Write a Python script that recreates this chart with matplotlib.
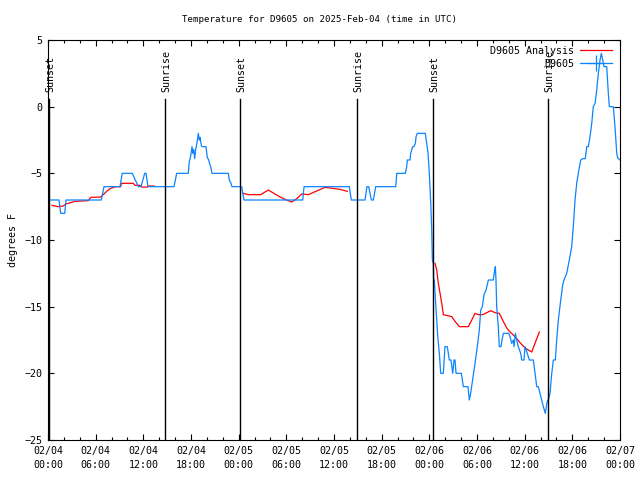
import numpy as np
import matplotlib
matplotlib.use("Agg")
import matplotlib.pyplot as plt
from matplotlib.lines import Line2D
from matplotlib.ticker import MultipleLocator

# hours since 2025-02-04 00:00 UTC
obs_hours = [0.0, 1.38, 1.6, 2.1, 2.27, 6.71, 7.05, 9.06, 9.35, 10.61, 11.37, 11.71,
             12.17, 12.34, 12.59, 15.86, 16.2, 17.66, 17.79, 17.96, 18.13, 18.21,
             18.34, 18.46, 18.59, 18.79, 18.92, 19.05, 19.13, 19.3, 19.39, 19.89,
             20.05, 20.23, 20.35, 20.52, 20.64, 22.7, 22.82, 23.0, 23.16, 24.38,
             24.67, 32.06, 32.23, 37.93, 38.18, 39.9, 40.15, 40.37, 40.7, 40.95,
             41.25, 43.77, 43.9, 44.98, 45.15, 45.23, 45.57, 45.65, 45.9, 46.07,
             46.24, 46.33, 46.49, 47.49, 47.67, 47.84, 48.0, 48.18, 48.3, 48.38,
             48.5, 48.54, 48.63, 48.72, 48.93, 49.06, 49.26, 49.43, 49.76, 49.97,
             50.26, 50.52, 50.73, 50.94, 51.11, 51.23, 51.36, 52.03, 52.28, 52.87,
             53.03, 53.2, 53.45, 53.75, 54.04, 54.29, 54.47, 54.67, 54.88, 55.14,
             55.43, 56.05, 56.23, 56.31, 56.39, 56.48, 56.68, 56.81, 57.02, 57.15,
             57.32, 57.99, 58.16, 58.37, 58.57, 58.66, 58.83, 59.0, 59.2, 59.5,
             59.63, 59.92, 60.04, 60.17, 60.33, 60.59, 61.09, 61.3, 61.52, 61.72,
             61.93, 62.15, 62.35, 62.6, 62.78, 62.9, 62.98, 63.19, 63.41, 63.61,
             63.86, 64.03, 64.24, 64.54, 64.79, 64.95, 65.29, 65.62, 65.92, 66.12,
             66.34, 66.55, 66.75, 67.05, 67.3, 67.63, 67.81, 68.01, 68.23, 68.44,
             68.64, 68.86, 69.07, 69.27, 69.49, 69.65, 69.83, 69.99, 70.33, 70.53,
             70.66, 71.16, 71.37, 71.59, 71.71, 72.0]
obs_temp = [-7, -7, -8, -8, -7, -7, -6, -6, -5, -5, -6, -6,
            -5, -5, -6, -6, -5, -5, -4.1, -3.7, -3.0, -3.5,
            -3.2, -3.9, -3.2, -2.6, -2.0, -2.5, -2.3, -2.9, -3.0, -3.0,
            -3.8, -4.0, -4.3, -4.6, -5.0, -5, -5.5, -5.7, -6, -6,
            -7, -7, -6, -6, -7, -7, -6, -6, -7, -7,
            -6, -6, -5, -5, -4.5, -4.0, -4.0, -3.5, -3.0, -3.0,
            -2.75, -2.25, -2.0, -2.0, -2.75, -3.5, -5, -7.25, -9.25, -11.5,
            -11.75, -13, -13, -14, -16, -17.25, -18.5, -20, -20, -18,
            -18, -19, -19, -20, -19, -19, -20, -20, -21, -21,
            -22, -21.5, -20.5, -19.25, -18, -16.75, -15.25, -15, -14.1, -13.75,
            -13, -13, -12.25, -12, -13, -15, -16.5, -18, -18, -17.5,
            -17, -17, -17.25, -17.75, -17.5, -18, -17, -17.5, -18, -18.5,
            -19, -19, -18, -18.2, -18.5, -19, -19, -20, -21, -21,
            -21.5, -22, -22.5, -23, -22.3, -22, -22, -21.5, -20, -19,
            -19, -17.5, -16, -14.5, -13.35, -13, -12.5, -11.5, -10.5, -9,
            -7, -5.75, -5, -4, -3.9, -3.9, -3, -3, -2.25, -1.25,
            0, 0.25, 1.25, 2.5, 3.5, 4.0, 3.5, 3, 3, 1,
            0, 0, -1.5, -3.5, -3.85, -4]

ana_hours = [0.5, 1.26, 1.9, 2.27, 3.4, 5.04, 5.4, 6.63, 7.3, 7.8, 8.52, 9.15,
             9.23, 10.74, 10.95, 11.58, 11.83, 12.46, 12.71, 13.34, 18.0,
             24.58, 25.21, 26.77, 27.73, 28.99, 29.83, 30.68, 31.31, 31.94, 32.77,
             34.87, 36.76, 37.68, 43.0,
             48.72, 48.93, 49.13, 49.35, 49.56, 49.76, 50.82, 51.23, 51.78, 52.91,
             53.34, 53.75, 54.17, 54.72, 55.22, 55.73, 56.27, 56.81, 57.31, 57.74,
             58.16, 58.79, 59.42, 60.05, 60.46, 60.89, 61.3, 61.85]
ana_temp = [-7.4, -7.5, -7.45, -7.3, -7.1, -7.05, -6.8, -6.78, -6.4, -6.15, -6.0, -6.0,
            -5.75, -5.75, -5.9, -5.9, -6.03, -6.03, -5.95, -5.95, np.nan,
            -6.5, -6.6, -6.6, -6.25, -6.7, -6.95, -7.15, -6.9, -6.55, -6.6,
            -6.05, -6.2, -6.35, np.nan,
            -11.75, -12.25, -13.25, -14, -14.75, -15.6, -15.75, -16.1, -16.5, -16.5,
            -16, -15.5, -15.6, -15.6, -15.45, -15.3, -15.45, -15.5, -16.1, -16.6,
            -16.9, -17.25, -17.7, -18.1, -18.25, -18.4, -17.75, -16.9]

sun_hours = [0.1, 14.73, 24.17, 38.9, 48.46, 62.9]
sun_labels = ["Sunset", "Sunrise", "Sunset", "Sunrise", "Sunset", "Sunrise"]

tick_hours = list(range(0, 73, 6))
tick_labels = ["02/04\n00:00", "02/04\n06:00", "02/04\n12:00", "02/04\n18:00",
               "02/05\n00:00", "02/05\n06:00", "02/05\n12:00", "02/05\n18:00",
               "02/06\n00:00", "02/06\n06:00", "02/06\n12:00", "02/06\n18:00",
               "02/07\n00:00"]

plt.rcParams['font.family'] = ['DejaVu Sans Mono']
plt.rcParams['font.size'] = 7.2

fig = plt.figure(figsize=(6.4, 4.8), dpi=100)
ax = fig.add_axes([48 / 640, 40 / 480, 572 / 640, 400 / 480])

red = '#ff0000'
blue = '#0a84ff'

ax.plot(ana_hours, ana_temp, color=red, lw=0.9)
ax.plot(obs_hours, obs_temp, color=blue, lw=0.9)

for h, lab in zip(sun_hours, sun_labels):
    ax.plot([h, h], [-25, 0.55], color='black', lw=1.0)
    ax.text(h + 0.2, 1.1, lab, rotation=90, ha='center', va='bottom')

ax.set_xlim(0, 72)
ax.set_ylim(-25, 5)
ax.set_xticks(tick_hours)
ax.set_xticklabels(tick_labels, linespacing=1.5)
ax.xaxis.set_minor_locator(MultipleLocator(2))
ax.yaxis.set_major_locator(MultipleLocator(5))
ax.tick_params(which='both', direction='in', top=True, right=True, width=0.8)
ax.tick_params(which='major', length=4.5, pad=4)
ax.tick_params(which='minor', length=2.5)

ax.set_ylabel('degrees F', labelpad=5)
fig.text(0.5, 1 - 19 / 480, 'Temperature for D9605 on 2025-Feb-04 (time in UTC)',
         fontsize=6.6, ha='center', va='center')

handles = [Line2D([], [], color=red, lw=0.9),
           Line2D([], [], color=blue, lw=0.9, marker='+', markersize=12,
                  markevery=[1], markeredgewidth=0.9)]
ax.legend(handles, ['D9605 Analysis', 'D9605'], loc='upper right',
          frameon=False, markerfirst=False, handlelength=3.2,
          handletextpad=0.6, labelspacing=0.3, borderaxespad=0.2,
          bbox_to_anchor=(0.997, 1.0))

fig.savefig('out.png', dpi=100)
